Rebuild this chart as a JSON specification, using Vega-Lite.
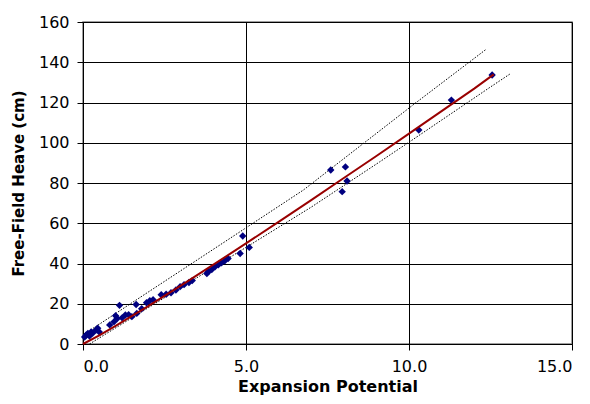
{
  "$schema": "https://vega.github.io/schema/vega-lite/v6.json",
  "width": 489,
  "height": 322,
  "autosize": {"type": "none"},
  "padding": {"left": 83, "top": 22, "right": 18, "bottom": 60},
  "background": "white",
  "config": {
    "view": {"stroke": "#808080", "strokeWidth": 1.5},
    "font": "DejaVu Sans",
    "axis": {
      "labelFont": "DejaVu Sans",
      "titleFont": "DejaVu Sans",
      "labelFontSize": 16,
      "titleFontSize": 15,
      "labelColor": "black",
      "titleColor": "black",
      "titleFontWeight": "bold",
      "domainColor": "black",
      "tickColor": "black",
      "gridColor": "black",
      "gridOpacity": 1,
      "gridWidth": 1,
      "tickSize": 6
    }
  },
  "datasets": {
    "points": [
      {"ep": 0.05, "heave": 3.5}, {"ep": 0.1, "heave": 4.5}, {"ep": 0.15, "heave": 5.2}, {"ep": 0.2, "heave": 4.0},
      {"ep": 0.25, "heave": 6.0}, {"ep": 0.3, "heave": 5.5}, {"ep": 0.4, "heave": 7.0}, {"ep": 0.45, "heave": 7.8},
      {"ep": 0.5, "heave": 6.0}, {"ep": 0.82, "heave": 9.5}, {"ep": 0.95, "heave": 11.0}, {"ep": 1.05, "heave": 12.7},
      {"ep": 1.0, "heave": 14.0}, {"ep": 1.12, "heave": 19.2}, {"ep": 1.2, "heave": 13.0}, {"ep": 1.3, "heave": 14.4},
      {"ep": 1.4, "heave": 14.5}, {"ep": 1.5, "heave": 13.6}, {"ep": 1.63, "heave": 19.6}, {"ep": 1.65, "heave": 15.2},
      {"ep": 1.8, "heave": 17.5}, {"ep": 1.95, "heave": 20.5}, {"ep": 2.05, "heave": 21.5}, {"ep": 2.15, "heave": 22.0},
      {"ep": 2.4, "heave": 24.5}, {"ep": 2.55, "heave": 24.7}, {"ep": 2.7, "heave": 25.5}, {"ep": 2.85, "heave": 26.8},
      {"ep": 2.98, "heave": 28.5}, {"ep": 3.1, "heave": 29.5}, {"ep": 3.25, "heave": 30.6}, {"ep": 3.35, "heave": 31.5},
      {"ep": 3.8, "heave": 35.0}, {"ep": 3.85, "heave": 36.0}, {"ep": 3.95, "heave": 37.0}, {"ep": 4.05, "heave": 38.4},
      {"ep": 4.15, "heave": 39.3}, {"ep": 4.25, "heave": 40.4}, {"ep": 4.35, "heave": 41.4}, {"ep": 4.45, "heave": 42.5},
      {"ep": 4.82, "heave": 45.0}, {"ep": 4.9, "heave": 53.7}, {"ep": 5.1, "heave": 48.0}, {"ep": 7.6, "heave": 86.5},
      {"ep": 8.05, "heave": 88.0}, {"ep": 8.1, "heave": 81.0}, {"ep": 7.95, "heave": 75.7}, {"ep": 10.3, "heave": 106.3},
      {"ep": 11.3, "heave": 121.2}, {"ep": 12.55, "heave": 133.7}
    ],
    "fit": [
      {"ep": 0, "heave": 0}, {"ep": 0.5, "heave": 4.3}, {"ep": 1, "heave": 9.0}, {"ep": 2, "heave": 18.8},
      {"ep": 3, "heave": 29.0}, {"ep": 4, "heave": 39.4}, {"ep": 5, "heave": 50.0}, {"ep": 6, "heave": 60.7},
      {"ep": 7, "heave": 71.5}, {"ep": 8, "heave": 82.5}, {"ep": 9, "heave": 93.4}, {"ep": 10, "heave": 104.5},
      {"ep": 11, "heave": 115.7}, {"ep": 12, "heave": 126.9}, {"ep": 12.6, "heave": 134.0}
    ],
    "upper": [
      {"ep": 0, "heave": 4.5}, {"ep": 2, "heave": 25.8}, {"ep": 4.2, "heave": 49.2}, {"ep": 6.76, "heave": 76.5},
      {"ep": 10.18, "heave": 119.5}, {"ep": 12.38, "heave": 146.6}
    ],
    "lower": [
      {"ep": 0.2, "heave": 0.0}, {"ep": 2, "heave": 18.0}, {"ep": 4.2, "heave": 40.0}, {"ep": 7.0, "heave": 68.0},
      {"ep": 9.1, "heave": 90.5}, {"ep": 10.13, "heave": 101.7}, {"ep": 12.48, "heave": 127.5}, {"ep": 13.1, "heave": 134.2}
    ]
  },
  "encoding": {
    "x": {
      "field": "ep", "type": "quantitative",
      "scale": {"domain": [0, 15], "nice": false, "zero": true},
      "axis": {"values": [0, 5, 10, 15], "format": ".1f", "title": "Expansion Potential", "titleFontSize": 16, "labelPadding": 8, "titlePadding": 4}
    },
    "y": {
      "field": "heave", "type": "quantitative",
      "scale": {"domain": [0, 160], "nice": false},
      "axis": {"values": [0, 20, 40, 60, 80, 100, 120, 140, 160], "title": "Free-Field Heave (cm)", "labelPadding": 8, "titlePadding": 12}
    }
  },
  "layer": [
    {
      "data": {"name": "upper"},
      "mark": {"type": "line", "color": "black", "strokeWidth": 1, "strokeDash": [1.5, 1.5], "clip": true}
    },
    {
      "data": {"name": "lower"},
      "mark": {"type": "line", "color": "black", "strokeWidth": 1, "strokeDash": [1.5, 1.5], "clip": true}
    },
    {
      "data": {"name": "points"},
      "mark": {"type": "point", "shape": "diamond", "filled": true, "color": "#000080", "size": 55, "opacity": 1}
    },
    {
      "data": {"name": "fit"},
      "mark": {"type": "line", "color": "#990000", "strokeWidth": 2}
    }
  ]
}
